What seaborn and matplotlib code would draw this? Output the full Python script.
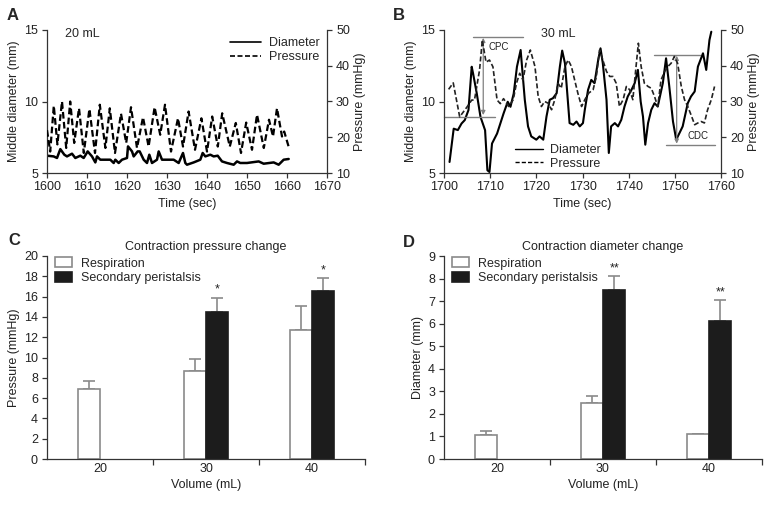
import numpy as np
import pandas as pd
import matplotlib
matplotlib.use("Agg")
import matplotlib.pyplot as plt
from matplotlib.lines import Line2D
from matplotlib.patches import Patch
import seaborn as sns

# ---------------- data ----------------
# Panel A (20 mL)
a_p_time = [1600.0, 1600.8, 1601.7, 1602.6, 1603.75, 1604.8, 1605.8, 1606.8, 1608.0, 1609.2,
            1610.6, 1612.0, 1613.2, 1614.6, 1615.7, 1617.0, 1618.5, 1619.8, 1621.0, 1622.5,
            1624.0, 1625.4, 1626.9, 1628.3, 1629.5, 1631.0, 1632.75, 1634.0, 1635.4, 1637.0,
            1638.6, 1640.0, 1641.3, 1642.7, 1643.8, 1645.7, 1647.2, 1648.5, 1649.8, 1651.25,
            1652.5, 1654.2, 1655.5, 1656.5, 1657.5, 1658.75, 1659.3, 1660.4]
a_pressure = [22.0, 16.0, 28.8, 18.0, 30.0, 17.0, 30.0, 18.4, 28.1, 15.6,
              27.9, 15.6, 29.1, 17.0, 28.1, 15.6, 26.6, 18.4, 28.4, 17.0,
              25.6, 17.4, 28.4, 20.7, 29.1, 16.0, 25.3, 17.4, 27.2, 16.5,
              25.3, 16.0, 25.8, 17.4, 26.7, 17.4, 24.0, 15.6, 24.1, 16.5,
              26.3, 17.0, 24.9, 20.2, 28.1, 20.2, 21.6, 17.4]
a_d_time = [1600.0, 1601.67, 1602.5, 1603.33, 1604.33, 1605.0, 1606.25, 1607.08, 1608.33, 1609.17,
            1610.17, 1611.25, 1612.08, 1612.5, 1613.33, 1615.83, 1616.67, 1617.08, 1617.92, 1618.75,
            1620.0, 1620.25, 1621.25, 1621.67, 1622.67, 1623.17, 1624.17, 1625.0, 1625.58, 1626.25,
            1627.5, 1627.92, 1628.75, 1631.67, 1632.92, 1634.0, 1634.58, 1635.0, 1636.67, 1638.33,
            1638.92, 1639.58, 1640.83, 1641.67, 1642.67, 1643.75, 1645.0, 1646.67, 1647.5, 1648.33,
            1650.0, 1652.92, 1654.17, 1656.67, 1657.92, 1659.17, 1660.42]
a_diameter = [6.21, 6.16, 6.05, 6.67, 6.28, 6.16, 6.35, 6.05, 6.21, 6.05,
              6.51, 6.16, 5.74, 6.16, 5.93, 5.93, 5.70, 5.93, 5.70, 5.93,
              6.05, 6.86, 6.51, 6.16, 6.51, 6.51, 5.93, 5.70, 6.28, 5.70,
              5.93, 6.51, 5.93, 5.93, 5.70, 6.40, 5.70, 5.58, 5.74, 5.93,
              6.40, 6.16, 6.28, 6.16, 6.21, 5.81, 5.70, 5.58, 5.81, 5.70,
              5.70, 5.81, 5.65, 5.74, 5.58, 5.93, 5.98]

# Panel B (30 mL)
b_d_time = [1701.2, 1702.1, 1703.0, 1703.8, 1704.5, 1705.3, 1706.0, 1706.3, 1707.1, 1707.9,
            1708.9, 1709.4, 1709.85, 1710.4, 1711.5, 1712.2, 1712.9, 1713.8, 1714.4, 1715.1,
            1715.8, 1716.6, 1716.9, 1717.5, 1718.2, 1718.9, 1720.0, 1720.7, 1721.5, 1722.2,
            1722.9, 1723.6, 1724.4, 1725.1, 1725.6, 1726.2, 1726.7, 1727.2, 1728.0, 1728.7,
            1729.4, 1730.1, 1730.5, 1731.2, 1731.9, 1732.6, 1733.4, 1733.9, 1734.4, 1735.2,
            1735.7, 1736.2, 1737.0, 1737.7, 1738.4, 1739.1, 1739.8, 1740.6, 1741.3, 1742.0,
            1742.6, 1743.1, 1743.6, 1744.2, 1744.9, 1745.6, 1746.3, 1747.4, 1748.1, 1748.8,
            1749.6, 1750.3, 1751.0, 1751.7, 1752.8, 1753.5, 1754.3, 1755.0, 1756.1, 1756.8,
            1757.5, 1757.9]
b_diameter = [5.77, 8.10, 8.00, 8.46, 8.70, 9.40, 12.43, 11.96, 10.56, 8.93,
              7.99, 5.19, 5.07, 7.06, 7.76, 8.46, 9.16, 9.98, 9.63, 10.56,
              12.43, 13.60, 12.44, 10.12, 8.26, 7.56, 7.33, 7.56, 7.33, 8.95,
              10.12, 10.23, 10.58, 12.44, 13.56, 12.67, 10.58, 8.49, 8.37, 8.60,
              8.26, 8.49, 9.42, 10.81, 11.51, 11.28, 12.91, 13.72, 12.67, 10.12,
              6.40, 8.26, 8.49, 8.26, 8.72, 9.65, 10.35, 10.81, 11.28, 12.21,
              10.00, 8.95, 6.98, 8.49, 9.42, 9.88, 9.65, 11.28, 13.02, 11.05,
              8.60, 7.33, 7.79, 8.26, 9.88, 10.35, 10.70, 12.44, 13.37, 12.21,
              14.30, 14.88]
b_p_time = [1701.0, 1702.0, 1703.4, 1705.0, 1706.0, 1706.6, 1707.7, 1708.3, 1709.1, 1709.85,
            1710.6, 1711.5, 1712.2, 1712.9, 1714.0, 1715.0, 1715.7, 1716.4, 1717.1, 1717.9,
            1718.7, 1719.7, 1720.4, 1721.1, 1721.8, 1722.6, 1723.3, 1724.0, 1724.7, 1725.4,
            1726.2, 1726.9, 1727.6, 1728.3, 1729.0, 1729.8, 1730.5, 1731.3, 1732.3, 1733.0,
            1733.7, 1734.4, 1735.2, 1735.9, 1736.6, 1737.3, 1738.0, 1738.8, 1739.5, 1740.2,
            1740.9, 1741.6, 1742.1, 1742.7, 1743.4, 1744.2, 1744.9, 1745.6, 1746.3, 1747.0,
            1747.8, 1748.5, 1749.2, 1749.9, 1750.6, 1751.4, 1752.1, 1752.8, 1753.5, 1754.3,
            1755.0, 1755.7, 1756.4, 1757.1, 1757.9, 1758.6]
b_pressure = [33.4, 35.2, 25.7, 28.5, 30.4, 30.4, 38.8, 47.2, 41.0, 41.6,
              39.7, 30.4, 29.4, 30.8, 28.6, 30.5, 35.1, 37.9, 36.0, 41.6,
              44.4, 39.8, 31.4, 28.6, 30.0, 29.5, 27.7, 30.5, 35.1, 33.7,
              39.8, 41.6, 39.8, 36.0, 32.3, 28.6, 30.5, 32.3, 33.3, 37.0,
              44.4, 41.6, 38.4, 37.0, 37.0, 35.1, 28.6, 30.5, 34.2, 33.3,
              30.5, 39.8, 46.3, 39.8, 35.1, 34.2, 33.7, 31.4, 28.6, 36.0,
              38.4, 39.8, 40.7, 42.6, 40.7, 34.2, 30.5, 28.6, 26.3, 23.5,
              24.0, 24.4, 24.0, 27.7, 30.5, 34.2]

# Panels C and D
volumes = ["20", "30", "40"]
groups = ["Respiration", "Secondary peristalsis"]
c_resp = [6.9, 8.65, 12.7]
c_resp_err = [0.75, 1.2, 2.4]
c_sec = [np.nan, 14.5, 16.6]
c_sec_err = [np.nan, 1.4, 1.2]
c_sig = ["", "*", "*"]
d_resp = [1.07, 2.5, 1.1]
d_resp_err = [0.18, 0.28, 0.03]
d_sec = [np.nan, 7.5, 6.1]
d_sec_err = [np.nan, 0.6, 0.93]
d_sig = ["", "**", "**"]

# ---------------- style ----------------
sns.set_theme(style="ticks")
plt.rcParams["font.family"] = ["Liberation Sans", "DejaVu Sans"]
plt.rcParams["font.size"] = 9
SPC = "#333333"
plt.rcParams.update({
    "axes.edgecolor": SPC, "axes.linewidth": 0.9,
    "xtick.color": SPC, "ytick.color": SPC,
    "xtick.labelcolor": "#222222", "ytick.labelcolor": "#222222",
    "xtick.labelsize": 9, "ytick.labelsize": 9,
    "xtick.major.size": 3.5, "ytick.major.size": 3.5,
    "xtick.major.width": 0.9, "ytick.major.width": 0.9,
    "xtick.major.pad": 2.5, "ytick.major.pad": 3,
    "axes.labelsize": 9, "axes.labelcolor": "#222222",
    "legend.fontsize": 9,
})

fig = plt.figure(figsize=(7.7, 5.05), dpi=100)
W, H = 770, 505


def pos(l, t, r, b):
    return [l / W, 1 - b / H, (r - l) / W, (b - t) / H]


def trace_axes(rect, xlim, xticks):
    ax = fig.add_axes(rect)
    ax2 = ax.twinx()
    ax.set_xlim(*xlim)
    ax.set_xticks(xticks)
    ax.set_ylim(5, 15)
    ax.set_yticks([5, 10, 15])
    ax2.set_ylim(10, 50)
    ax2.set_yticks([10, 20, 30, 40, 50])
    for a in (ax, ax2):
        a.spines["top"].set_visible(False)
    ax.spines["right"].set_visible(False)
    ax2.spines["left"].set_visible(False)
    ax2.spines["bottom"].set_visible(False)
    ax.set_xlabel("Time (sec)", labelpad=3)
    ax.set_ylabel("Middle diameter (mm)", labelpad=3)
    ax2.set_ylabel("Pressure (mmHg)", labelpad=3)
    return ax, ax2


# ---------- Panel A ----------
axA, axA2 = trace_axes(pos(47, 30, 327, 173), (1600, 1670), range(1600, 1671, 10))
sns.lineplot(x=a_d_time, y=a_diameter, ax=axA, color="black", lw=1.8, estimator=None, sort=False)
sns.lineplot(x=a_p_time, y=a_pressure, ax=axA2, color="black", lw=1.6, linestyle=(0, (3, 1.5)),
             estimator=None, sort=False)
axA.text(1604.5, 14.75, "20 mL", ha="left", va="center", fontsize=9)
hA = [Line2D([], [], color="black", lw=1.2), Line2D([], [], color="black", lw=1.2, ls=(0, (3, 1.5)))]
axA2.legend(hA, ["Diameter", "Pressure"], loc="upper right", bbox_to_anchor=(1.0, 1.0),
            frameon=False, handlelength=2.5, handletextpad=0.6, labelspacing=0.15, borderaxespad=0.2)

# ---------- Panel B ----------
axB, axB2 = trace_axes(pos(444, 30, 721, 173), (1700, 1760), range(1700, 1761, 10))
sns.lineplot(x=b_d_time, y=b_diameter, ax=axB, color="black", lw=1.5, estimator=None, sort=False)
sns.lineplot(x=b_p_time, y=b_pressure, ax=axB2, color="#222222", lw=1.2, linestyle=(0, (3, 1.5)),
             estimator=None, sort=False)
GR = "#808080"
# CPC
axB.plot([1706.3, 1717.1], [14.53, 14.53], color=GR, lw=1.0, clip_on=False)
axB.plot([1700, 1711.0], [8.95, 8.95], color=GR, lw=1.0, clip_on=False)
axB.annotate("", xy=(1708.5, 14.45), xytext=(1708.5, 9.05),
             arrowprops=dict(arrowstyle="<|-|>", color=GR, lw=0.9, mutation_scale=6, shrinkA=0, shrinkB=0))
axB.text(1709.7, 13.8, "CPC", fontsize=7, ha="left", va="center", color="#222222")
# CDC
axB.plot([1745.5, 1755.5], [13.26, 13.26], color=GR, lw=1.0)
axB.plot([1748.0, 1758.8], [6.98, 6.98], color=GR, lw=1.0)
axB.annotate("", xy=(1750.4, 13.2), xytext=(1750.4, 7.05),
             arrowprops=dict(arrowstyle="<|-|>", color=GR, lw=0.9, mutation_scale=6, shrinkA=0, shrinkB=0))
axB.text(1755.0, 7.6, "CDC", fontsize=7, ha="center", va="center", color="#222222")
axB.text(1724.7, 14.75, "30 mL", ha="center", va="center", fontsize=9)
hB = [Line2D([], [], color="black", lw=1.0), Line2D([], [], color="black", lw=1.0, ls=(0, (3, 1.5)))]
axB2.legend(hB, ["Diameter", "Pressure"], loc="lower left", bbox_to_anchor=(0.23, -0.03),
            frameon=False, handlelength=2.2, handletextpad=0.6, labelspacing=0.15, borderaxespad=0.2)


# ---------- Bar panels ----------
def bar_panel(rect, resp, resp_err, sec, sec_err, sig, ylim, yticks, ylabel, title):
    ax = fig.add_axes(rect)
    df = pd.DataFrame({
        "Volume": volumes * 2,
        "Group": [groups[0]] * 3 + [groups[1]] * 3,
        "Mean": list(resp) + list(sec),
        "Err": list(resp_err) + list(sec_err),
        "Sig": [""] * 3 + list(sig),
    }).dropna(subset=["Mean"])
    sns.barplot(data=df, x="Volume", y="Mean", hue="Group", order=volumes, hue_order=groups,
                palette={groups[0]: "white", groups[1]: "#1c1c1c"}, width=0.42,
                errorbar=None, legend=False, ax=ax, zorder=2)
    edge = {groups[0]: "#8a8a8a", groups[1]: "#1c1c1c"}
    for cont, g in zip(ax.containers, groups):
        sub = df[df["Group"] == g]
        xs, tops = [], []
        for patch in cont.patches:
            patch.set_edgecolor(edge[g])
            patch.set_linewidth(1.2)
            xs.append(patch.get_x() + patch.get_width() / 2)
            tops.append(patch.get_height())
        errs = sub["Err"].tolist()
        ax.errorbar(xs, tops, yerr=[np.zeros(len(errs)), errs], fmt="none", ecolor="#8a8a8a",
                    elinewidth=1.2, capsize=4.5, capthick=1.2, zorder=1)
        for x, t, e, s in zip(xs, tops, errs, sub["Sig"].tolist()):
            if s:
                ax.annotate(s, (x, t + e), xytext=(0, 1.5), textcoords="offset points",
                            ha="center", va="bottom", fontsize=9, color="#222222")
    ax.set_xlim(-0.5, 2.5)
    ax.set_ylim(*ylim)
    ax.set_yticks(yticks)
    ax.set_xticks([0.5, 1.5, 2.5], minor=True)
    ax.tick_params(axis="x", which="major", length=0, pad=3)
    ax.tick_params(axis="x", which="minor", length=4, width=0.9, color=SPC)
    sns.despine(ax=ax)
    ax.set_xlabel("Volume (mL)", labelpad=3)
    ax.set_ylabel(ylabel, labelpad=3)
    ax.set_title(title, fontsize=9, pad=4, color="#222222")
    handles = [Patch(facecolor="white", edgecolor="#8a8a8a", lw=1.2),
               Patch(facecolor="#1c1c1c", edgecolor="#1c1c1c", lw=1.2)]
    ax.legend(handles, groups, loc="upper left", bbox_to_anchor=(0.0, 1.03), frameon=False,
              handlelength=1.4, handleheight=0.8, handletextpad=0.7, labelspacing=0.2,
              borderaxespad=0.2)
    return ax


bar_panel(pos(47, 256, 365, 459), c_resp, c_resp_err, c_sec, c_sec_err, c_sig,
          (0, 20), range(0, 21, 2), "Pressure (mmHg)", "Contraction pressure change")
bar_panel(pos(444, 256, 762, 459), d_resp, d_resp_err, d_sec, d_sec_err, d_sig,
          (0, 9), range(0, 10), "Diameter (mm)", "Contraction diameter change")

# panel letters
for lab, x, y in [("A", 7, 20), ("B", 393, 20), ("C", 8, 245), ("D", 403, 247)]:
    fig.text(x / W, 1 - y / H, lab, fontsize=12, fontweight="bold", ha="left", va="baseline")

fig.savefig("out.png", dpi=100)
